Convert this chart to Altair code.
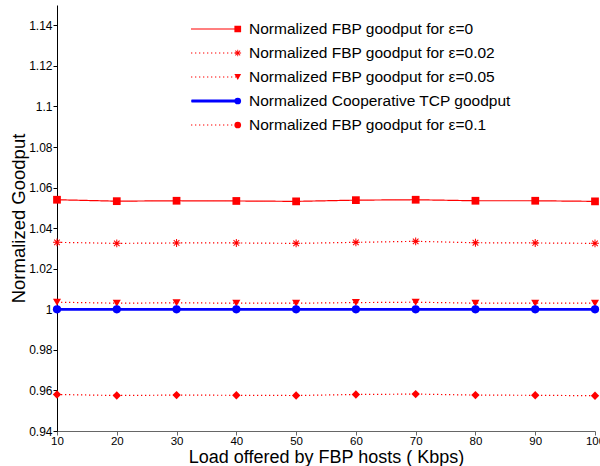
import altair as alt
import pandas as pd

# ---------------- data ----------------
loads = [10, 20, 30, 40, 50, 60, 70, 80, 90, 100]
eps_0 = [1.0540, 1.0533, 1.0535, 1.0534, 1.0532, 1.0538, 1.0540, 1.0535, 1.0535, 1.0532]
eps_002 = [1.0330, 1.0325, 1.0327, 1.0327, 1.0325, 1.0330, 1.0335, 1.0328, 1.0327, 1.0325]
eps_005 = [1.0035, 1.0030, 1.0032, 1.0030, 1.0030, 1.0033, 1.0035, 1.0030, 1.0030, 1.0030]
coop_tcp = [1.0, 1.0, 1.0, 1.0, 1.0, 1.0, 1.0, 1.0, 1.0, 1.0]
eps_01 = [0.9580, 0.9575, 0.9577, 0.9576, 0.9575, 0.9580, 0.9582, 0.9577, 0.9576, 0.9574]

series_names = [
    "Normalized FBP goodput for ε=0",
    "Normalized FBP goodput for ε=0.02",
    "Normalized FBP goodput for ε=0.05",
    "Normalized Cooperative TCP goodput",
    "Normalized FBP goodput for ε=0.1",
]
series_values = [eps_0, eps_002, eps_005, coop_tcp, eps_01]

y_ticks = [0.94, 0.96, 0.98, 1.0, 1.02, 1.04, 1.06, 1.08, 1.1, 1.12, 1.14]
x_ticks = loads

# ---------------- styles ----------------
ASTERISK = (
    "M-1,-0.13L1,-0.13L1,0.13L-1,0.13Z"
    "M-0.13,-1L0.13,-1L0.13,1L-0.13,1Z"
    "M-0.62,-0.8L0.8,0.62L0.62,0.8L-0.8,-0.62Z"
    "M0.62,-0.8L0.8,-0.62L-0.62,0.8L-0.8,0.62Z"
)
colors = ["#ff0000", "#ff0000", "#ff0000", "#0000ff", "#ff0000"]
dashes = [[1, 0], [1.3, 2.7], [1.3, 2.7], [1, 0], [1.3, 2.7]]
widths = [1.2, 1.2, 1.2, 2.8, 1.2]
plot_shapes = ["square", ASTERISK, "triangle-down", "circle", "diamond"]
plot_sizes = [60, 70, 90, 70, 90]
legend_shapes = ["square", ASTERISK, "triangle-down", "circle", "circle"]
thick_only = ["transparent", "transparent", "transparent", "#0000ff", "transparent"]

FONT = "Liberation Sans"

rows = []
for name, vals in zip(series_names, series_values):
    for ld, v in zip(loads, vals):
        rows.append({"load": ld, "value": v, "series": name})
df = pd.DataFrame(rows)

x_enc = alt.X(
    "load:Q",
    scale=alt.Scale(domain=[10, 100], nice=False, zero=False),
    axis=alt.Axis(
        values=x_ticks,
        title="Load offered by FBP hosts ( Kbps)",
        grid=False,
        domainColor="#666666",
        tickColor="#666666",
        tickSize=4,
        labelPadding=0,
        labelFlush=False,
        titlePadding=1.5,
        labelFontSize=11.5,
        titleFontSize=18,
    ),
)
y_enc = alt.Y(
    "value:Q",
    scale=alt.Scale(domain=[0.94, 1.15], nice=False, zero=False),
    axis=alt.Axis(
        values=y_ticks,
        labelExpr="format(datum.value, '.2~f')",
        title="Normalized Goodput",
        grid=False,
        domainColor="#000000",
        tickColor="#000000",
        tickSize=4,
        labelPadding=1,
        labelFlush=False,
        titlePadding=0,
        labelFontSize=12,
        titleFontSize=18.5,
    ),
)

common_legend = dict(
    orient="none",
    legendY=12,
    clipHeight=24,
    rowPadding=0,
    padding=0,
    labelFontSize=15.5,
    title=None,
)
line_legend = alt.Legend(
    legendX=133,
    symbolType="stroke",
    symbolSize=2025,
    symbolStrokeWidth=1.2,
    labelOffset=12,
    labelFont=FONT,
    labelColor="#000000",
    labelLimit=400,
    **common_legend,
)
thick_legend = alt.Legend(
    legendX=133,
    symbolType="stroke",
    symbolSize=2025,
    symbolStrokeWidth=2.8,
    labelOffset=12,
    labelExpr="''",
    **common_legend,
)
marker_legend = alt.Legend(
    legendX=173,
    symbolSize=45,
    labelExpr="''",
    **common_legend,
)

# one line layer per series, styled with constants
line_layers = []
for name, c, d, w in zip(series_names, colors, dashes, widths):
    line_layers.append(
        alt.Chart(df)
        .transform_filter(alt.datum.series == name)
        .mark_line(color=c, strokeDash=d, strokeWidth=w)
        .encode(x=x_enc, y=y_enc)
    )

points = alt.Chart(df).mark_point(filled=True, opacity=1).encode(
    x=x_enc,
    y=y_enc,
    color=alt.Color("series:N", scale=alt.Scale(domain=series_names, range=colors), legend=None),
    shape=alt.Shape("series:N", scale=alt.Scale(domain=series_names, range=plot_shapes), legend=None),
    size=alt.Size("series:N", scale=alt.Scale(domain=series_names, range=plot_sizes), legend=None),
)

# legend-only layers (nothing drawn; legends come from the explicit scale domains)
legend_lines = alt.Chart(df).transform_filter("false").mark_line().encode(
    x=x_enc,
    y=y_enc,
    color=alt.Color("series:N", scale=alt.Scale(domain=series_names, range=colors), legend=line_legend),
    strokeDash=alt.StrokeDash("series:N", scale=alt.Scale(domain=series_names, range=dashes), legend=line_legend),
)
legend_thick = alt.Chart(df).transform_filter("false").mark_line().encode(
    x=x_enc,
    y=y_enc,
    color=alt.Color("series:N", scale=alt.Scale(domain=series_names, range=thick_only), legend=thick_legend),
)
legend_pts = alt.Chart(df).transform_filter("false").mark_point(filled=True, opacity=1).encode(
    x=x_enc,
    y=y_enc,
    color=alt.Color("series:N", scale=alt.Scale(domain=series_names, range=colors), legend=marker_legend),
    shape=alt.Shape("series:N", scale=alt.Scale(domain=series_names, range=legend_shapes), legend=marker_legend),
)

chart = (
    alt.layer(*line_layers, points, legend_lines, legend_thick, legend_pts)
    .resolve_scale(color="independent", shape="independent", strokeDash="independent", size="independent")
    .resolve_legend(color="independent", shape="independent", strokeDash="independent", size="independent")
    .properties(
        width=538,
        height=426,
        autosize=alt.AutoSizeParams(type="none"),
        padding={"left": 57, "top": 5, "right": 5, "bottom": 35},
        background="white",
    )
    .configure_view(stroke=None)
    .configure_axis(labelFont=FONT, titleFont=FONT, labelColor="#000000", titleColor="#000000", titleFontWeight="normal")
)

chart.save("out.html", embed_options={"renderer": "svg", "actions": False})
